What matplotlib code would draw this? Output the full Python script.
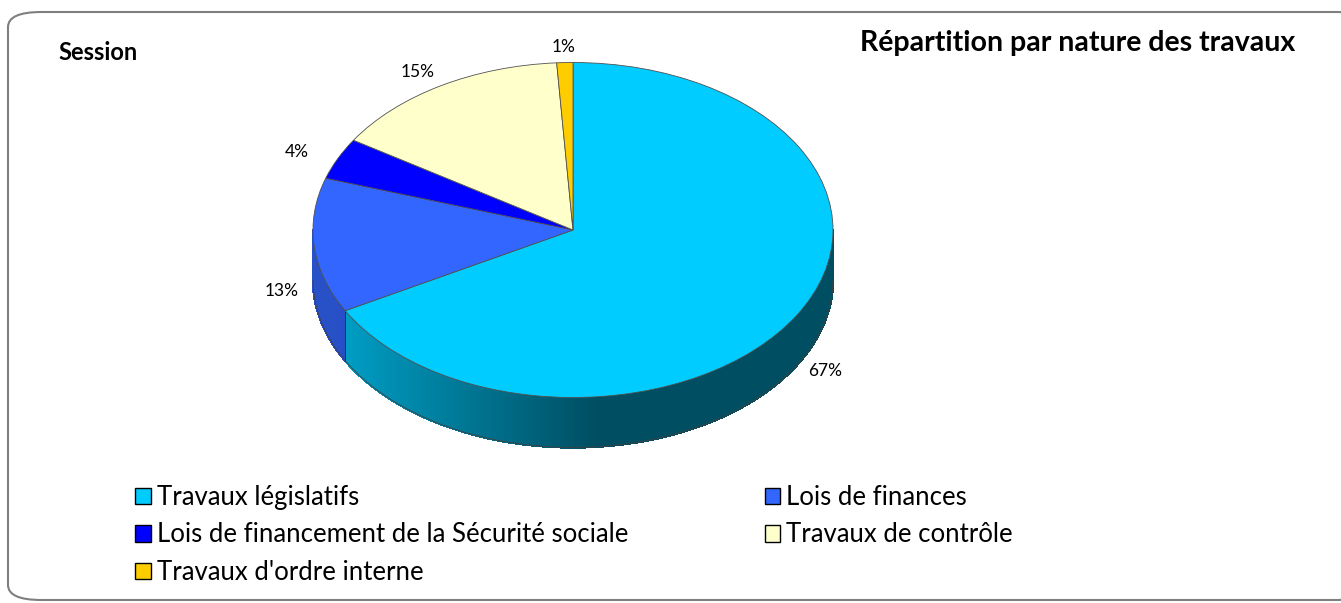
import numpy as np
import matplotlib
matplotlib.use("Agg")
import matplotlib.pyplot as plt
from matplotlib.collections import PolyCollection
from matplotlib.patches import FancyBboxPatch
from matplotlib.colors import to_rgb

plt.rcParams['font.family'] = ['Lato', 'DejaVu Sans']

# data
categories = ["Travaux législatifs", "Lois de finances",
              "Lois de financement de la Sécurité sociale",
              "Travaux de contrôle", "Travaux d'ordre interne"]
shares = [67, 13, 4, 15, 1]
colors = ["#00CCFF", "#3366FF", "#0000FF", "#FFFFCC", "#FFCC00"]

W, H = 1341, 603
fig = plt.figure(figsize=(W / 100, H / 100), dpi=100)

# rounded frame
frame = FancyBboxPatch((8 / W, 3 / H), (W + 20) / W, (H - 15) / H,
                       boxstyle="round,pad=0,rounding_size=0.025",
                       transform=fig.transFigure, facecolor="white",
                       edgecolor="#7f7f7f", linewidth=1.5, clip_on=False, zorder=-10)
fig.patches.append(frame)

fig.text(58 / W, 1 - 53 / H, "Session", fontsize=17, fontweight="bold",
         va="center", ha="left")
fig.text(1078 / W, 1 - 43 / H, "Répartition par nature des travaux",
         fontsize=20.5, fontweight="bold", va="center", ha="center")

# pie axes: unit circle squashed into an ellipse (260 px x 167.5 px)
cx, cy, rx, ry = 573, 230, 260, 167.5
x0, x1, y0, y1 = -1.5, 1.5, -1.6, 1.3
ax = fig.add_axes([(cx + x0 * rx) / W, (H - cy + y0 * ry) / H,
                   (x1 - x0) * rx / W, (y1 - y0) * ry / H])
depth = 50 / ry

wedges, texts, autotexts = ax.pie(
    shares, colors=colors, startangle=90, counterclock=False,
    autopct="%1.0f%%", pctdistance=1.15,
    wedgeprops=dict(edgecolor="#505050", linewidth=0.6, zorder=3),
    textprops=dict(fontsize=12.5))
ax.set_aspect("auto")
ax.set_xlim(x0, x1)
ax.set_ylim(y0, y1)
ax.axis("off")

# shift lower labels below the side wall, nudge the upper ones
for t in autotexts:
    x, y = t.get_position()
    if y < 0:
        t.set_position((x * 0.98, y - depth * 0.85))
    else:
        t.set_position((x * 1.02, y * 0.95))


def shade(x):
    return 0.38 + 0.4 * np.clip((0.1 - x) / 1.0, 0, 1)


# side wall of the front half
polys, fcols = [], []
for w, c in zip(wedges, colors):
    for s in (-360, 0, 360):
        a = max(w.theta1 + s, -180)
        b = min(w.theta2 + s, 0)
        if b <= a:
            continue
        th = np.radians(np.linspace(a, b, int((b - a) * 2) + 2))
        base = np.array(to_rgb(c))
        for t1, t2 in zip(th[:-1], th[1:]):
            xa, xb = np.cos(t1), np.cos(t2)
            ya, yb = np.sin(t1), np.sin(t2)
            polys.append([(xa, ya), (xb, yb), (xb, yb - depth), (xa, ya - depth)])
            fcols.append(base * shade((xa + xb) / 2))
        # vertical edge at slice boundaries
        for ang in (a, b):
            if -180 < ang < 0:
                xe, ye = np.cos(np.radians(ang)), np.sin(np.radians(ang))
                ax.plot([xe, xe], [ye, ye - depth], color="#303030", lw=0.5, zorder=2)
side = PolyCollection(polys, facecolors=fcols, edgecolors=fcols, linewidths=1.0,
                      antialiaseds=False, zorder=1)
ax.add_collection(side)
tt = np.radians(np.linspace(-180, 0, 200))
ax.plot(np.cos(tt), np.sin(tt) - depth, color="#404040", lw=0.6, zorder=2)

# legend in Excel row order
order = [0, 2, 4, 1, 3]
leg = fig.legend([wedges[i] for i in order], [categories[i] for i in order],
                 ncol=2, loc="upper left", bbox_to_anchor=(112 / W, 1 - 462 / H),
                 frameon=False, fontsize=18.5, handlelength=0.6, handleheight=0.6,
                 handletextpad=0.25, columnspacing=5.3, labelspacing=0.48)
for h in leg.legend_handles:
    h.set_edgecolor("black")
    h.set_linewidth(1.0)

fig.savefig("out.png", dpi=100)
